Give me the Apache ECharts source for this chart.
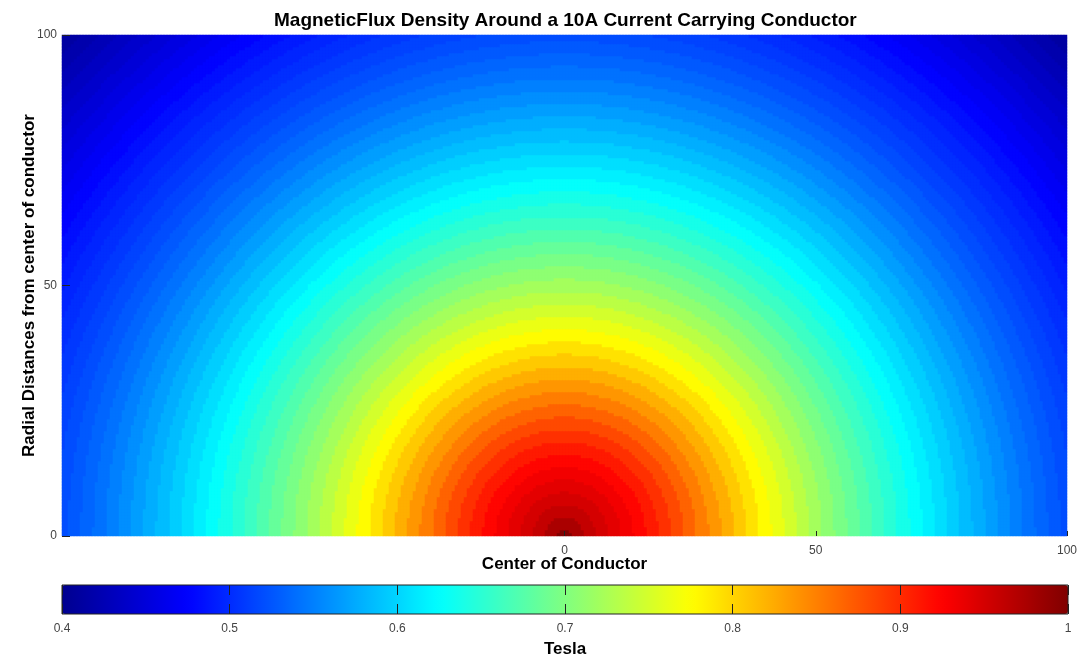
<!DOCTYPE html>
<html>
<head>
<meta charset="utf-8">
<title>Magnetic flux density</title>
<script src="https://cdn.jsdelivr.net/npm/echarts@6/dist/echarts.min.js"></script>
<style>
html, body { margin: 0; padding: 0; background: #fff; }
#chart { width: 1083px; height: 657px; }
</style>
</head>
<body>
<div id="chart"></div>
<script>
// radial profile: distance from conductor -> tesla
const radii = [0, 2.5, 5, 7.5, 10, 12.5, 15, 17.5, 20, 22.5, 25, 27.5, 30, 32.5, 35, 37.5,
    40, 42.5, 45, 47.5, 50, 52.5, 55, 57.5, 60, 62.5, 65, 67.5, 70, 72.5, 75, 77.5,
    80, 82.5, 85, 87.5, 90, 92.5, 95, 97.5, 100, 102.5, 105, 107.5, 110, 112.5, 115, 117.5,
    120, 122.5, 125, 127.5, 130, 132.5, 135, 137.5, 140, 142.5]
const flux = [1.000, 0.975, 0.960, 0.950, 0.941, 0.932, 0.922, 0.910, 0.897, 0.882, 0.867, 0.852, 0.837, 0.822, 0.807, 0.792,
    0.777, 0.763, 0.749, 0.735, 0.721, 0.708, 0.696, 0.684, 0.672, 0.660, 0.649, 0.638, 0.627, 0.616, 0.606, 0.596,
    0.586, 0.577, 0.568, 0.559, 0.550, 0.542, 0.534, 0.527, 0.520, 0.514, 0.508, 0.502, 0.496, 0.490, 0.483, 0.476,
    0.469, 0.462, 0.455, 0.448, 0.441, 0.434, 0.427, 0.420, 0.413, 0.407]
const xTicks = [0, 50, 100]
const yTicks = [0, 50, 100]
const barTicks = [0.4, 0.5, 0.6, 0.7, 0.8, 0.9, 1]
const jet = ['#00008f', '#0000ff', '#0080ff', '#00ffff', '#80ff80', '#ffff00', '#ff8000', '#ff0000', '#800000']

const font = '"Liberation Sans", Arial, sans-serif'

// 335 x 167 cells -> 3px squares in a 1005 x 501 plot, so no seams between them
const nx = 335
const ny = 167
const xCells = []
const yCells = []
const cells = []
for (let i = 0; i < nx; i++) xCells.push(-100 + (i + 0.5) * 200 / nx)
for (let j = 0; j < ny; j++) yCells.push((j + 0.5) * 100 / ny)
xCells.forEach((x, i) => {
    yCells.forEach((y, j) => {
        const r = Math.sqrt(x * x + y * y)
        let k = 0
        for (let n = 1; n < radii.length; n++) {
            if (Math.abs(radii[n] - r) < Math.abs(radii[k] - r)) k = n
        }
        cells.push([i, j, flux[k]])
    })
})

const nameStyle = { fontSize: 17, fontWeight: 'bold', color: '#000', fontFamily: font }
const labelStyle = { fontSize: 12, color: '#444', fontFamily: font }

const myChart = echarts.init(document.getElementById('chart'))
myChart.setOption({
    animation: false,
    textStyle: { fontFamily: font },
    title: {
        text: 'MagneticFlux Density Around a 10A Current Carrying Conductor',
        left: 269,
        top: 6,
        textStyle: { fontSize: 19, fontWeight: 'bold', color: '#000', fontFamily: font }
    },
    grid: [
        { left: 62, top: 35, width: 1005, height: 501, outerBoundsMode: 'none' },
        { left: 62, top: 585, width: 1006, height: 29, outerBoundsMode: 'none', show: true, z: 10,
          backgroundColor: 'transparent', borderColor: '#222', borderWidth: 1 }
    ],
    xAxis: [
        { type: 'category', data: xCells, show: false, gridIndex: 0 },
        {
            type: 'value', gridIndex: 0, min: -100, max: 100, position: 'bottom', z: 10,
            name: 'Center of Conductor', nameLocation: 'middle', nameGap: 20, nameMoveOverlap: false,
            nameTextStyle: nameStyle,
            axisLine: { show: false },
            axisTick: { customValues: xTicks, inside: true, length: 5, lineStyle: { color: '#222' } },
            axisLabel: Object.assign({ customValues: xTicks, margin: 9 }, labelStyle),
            splitLine: { show: false }
        },
        {
            type: 'value', gridIndex: 1, min: 0.4, max: 1, interval: 0.1, position: 'bottom', z: 10,
            name: 'Tesla', nameLocation: 'middle', nameGap: 27, nameMoveOverlap: false,
            nameTextStyle: nameStyle,
            axisLine: { show: false },
            axisTick: { customValues: barTicks, inside: true, length: 10, lineStyle: { color: '#222' } },
            axisLabel: Object.assign({ customValues: barTicks, margin: 9 }, labelStyle),
            splitLine: { show: false }
        },
        {
            type: 'value', gridIndex: 1, min: 0.4, max: 1, interval: 0.1, position: 'top', z: 10,
            axisLine: { show: false },
            axisTick: { customValues: barTicks, inside: true, length: 10, lineStyle: { color: '#222' } },
            axisLabel: { show: false },
            splitLine: { show: false }
        }
    ],
    yAxis: [
        { type: 'category', data: yCells, show: false, gridIndex: 0 },
        {
            type: 'value', gridIndex: 0, min: 0, max: 100, position: 'left', z: 10,
            name: 'Radial Distances from center of conductor', nameLocation: 'middle', nameGap: 24, nameMoveOverlap: false,
            nameTextStyle: nameStyle,
            axisLine: { show: false },
            axisTick: { customValues: yTicks, inside: true, length: 8, lineStyle: { color: '#222' } },
            axisLabel: Object.assign({ customValues: yTicks, margin: 5 }, labelStyle),
            splitLine: { show: false }
        },
        { type: 'value', gridIndex: 1, show: false }
    ],
    visualMap: {
        type: 'continuous',
        seriesIndex: 0,
        min: 0.4,
        max: 1,
        orient: 'horizontal',
        left: 62,
        top: 585,
        padding: 0,
        itemWidth: 29,
        itemHeight: 1006,
        calculable: false,
        hoverLink: false,
        inRange: { color: jet }
    },
    series: [{
        type: 'heatmap',
        xAxisIndex: 0,
        yAxisIndex: 0,
        data: cells,
        progressive: 0,
        emphasis: { disabled: true }
    }]
})
</script>
</body>
</html>
